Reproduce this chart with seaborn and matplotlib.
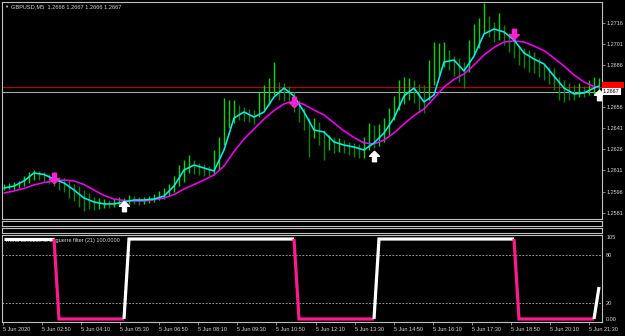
import numpy as np
import matplotlib
matplotlib.use("Agg")
import matplotlib.pyplot as plt
import matplotlib.transforms as mtransforms
from matplotlib.path import Path
from matplotlib.patches import Rectangle
import seaborn as sns

# ---------------- data ----------------
symbol_title = "GBPUSD,M5  1.2666 1.2667 1.2666 1.2667"
indicator_title = "Trend direction of Laguerre filter (21) 100.0000"

bar_high = [1.26014, 1.26021, 1.26028, 1.26035, 1.26070, 1.26099, 1.26113, 1.26106, 1.26099, 1.26085,
            1.26099, 1.26063, 1.26056, 1.26042, 1.26014, 1.25999, 1.25971, 1.25950, 1.25921, 1.25914,
            1.25907, 1.25900, 1.25907, 1.25921, 1.25914, 1.25936, 1.25928, 1.25921, 1.25921, 1.25928,
            1.25943, 1.25964, 1.25985, 1.26014, 1.26070, 1.26148, 1.26184, 1.26220, 1.26184, 1.26163,
            1.26156, 1.26141, 1.26255, 1.26347, 1.26624, 1.26610, 1.26610, 1.26574, 1.26560, 1.26546,
            1.26539, 1.26667, 1.26716, 1.26766, 1.26880, 1.26738, 1.26731, 1.26709, 1.26667, 1.26610,
            1.26553, 1.26482, 1.26482, 1.26454, 1.26397, 1.26362, 1.26347, 1.26340, 1.26326, 1.26312,
            1.26305, 1.26298, 1.26347, 1.26447, 1.26432, 1.26440, 1.26482, 1.26553, 1.26638, 1.26752,
            1.26773, 1.26766, 1.26752, 1.26724, 1.26716, 1.26894, 1.27022, 1.27015, 1.27022, 1.26965,
            1.26922, 1.26908, 1.26880, 1.27036, 1.27150, 1.27192, 1.27299, 1.27206, 1.27164, 1.27228,
            1.27142, 1.27086, 1.27057, 1.27000, 1.26979, 1.26965, 1.26951, 1.26908, 1.26866, 1.26844,
            1.26837, 1.26773, 1.26752, 1.26731, 1.26716, 1.26731, 1.26709, 1.26752, 1.26773, 1.26766]

bar_low = [1.25971, 1.25978, 1.25971, 1.25985, 1.25999, 1.26021, 1.26042, 1.26042, 1.26028, 1.26014,
           1.25999, 1.25971, 1.25957, 1.25914, 1.25893, 1.25850, 1.25822, 1.25836, 1.25829, 1.25836,
           1.25843, 1.25843, 1.25850, 1.25857, 1.25864, 1.25872, 1.25872, 1.25864, 1.25872, 1.25879,
           1.25886, 1.25900, 1.25907, 1.25928, 1.25957, 1.25999, 1.26028, 1.26092, 1.26085, 1.26078,
           1.26070, 1.26070, 1.26078, 1.26113, 1.26290, 1.26411, 1.26447, 1.26468, 1.26461, 1.26454,
           1.26440, 1.26489, 1.26539, 1.26574, 1.26646, 1.26610, 1.26603, 1.26589, 1.26525, 1.26454,
           1.26397, 1.26205, 1.26340, 1.26290, 1.26184, 1.26255, 1.26234, 1.26241, 1.26234, 1.26220,
           1.26205, 1.26198, 1.26198, 1.26255, 1.26269, 1.26283, 1.26312, 1.26362, 1.26468, 1.26539,
           1.26582, 1.26610, 1.26589, 1.26525, 1.26518, 1.26610, 1.26716, 1.26788, 1.26844, 1.26823,
           1.26780, 1.26738, 1.26695, 1.26809, 1.26930, 1.26979, 1.27086, 1.27057, 1.27022, 1.27036,
           1.27000, 1.26951, 1.26908, 1.26858, 1.26837, 1.26809, 1.26802, 1.26773, 1.26752, 1.26724,
           1.26681, 1.26610, 1.26596, 1.26610, 1.26610, 1.26631, 1.26631, 1.26646, 1.26653, 1.26667]

# moving averages sampled every second bar (plus the last bar)
ma_fast = [1.25985, 1.25999, 1.26035, 1.26092, 1.26081, 1.26049, 1.26021, 1.25971, 1.25914, 1.25886,
           1.25872, 1.25872, 1.25886, 1.25900, 1.25900, 1.25907, 1.25928, 1.25999, 1.26113, 1.26148,
           1.26127, 1.26106, 1.26255, 1.26482, 1.26525, 1.26489, 1.26525, 1.26631, 1.26695, 1.26638,
           1.26525, 1.26397, 1.26383, 1.26312, 1.26290, 1.26276, 1.26255, 1.26305, 1.26376, 1.26482,
           1.26638, 1.26695, 1.26596, 1.26646, 1.26880, 1.26894, 1.26816, 1.26922, 1.27079, 1.27114,
           1.27093, 1.27036, 1.26944, 1.26901, 1.26866, 1.26780, 1.26695, 1.26653, 1.26660, 1.26695,
           1.26709]
ma_slow = [1.25950, 1.25964, 1.25982, 1.26007, 1.26024, 1.26035, 1.26042, 1.26035, 1.26010, 1.25971,
           1.25932, 1.25907, 1.25896, 1.25893, 1.25893, 1.25902, 1.25914, 1.25939, 1.25978, 1.26010,
           1.26042, 1.26078, 1.26141, 1.26244, 1.26333, 1.26404, 1.26475, 1.26535, 1.26582, 1.26603,
           1.26578, 1.26539, 1.26504, 1.26447, 1.26390, 1.26344, 1.26305, 1.26298, 1.26326, 1.26376,
           1.26440, 1.26500, 1.26546, 1.26624, 1.26702, 1.26756, 1.26795, 1.26858, 1.26930, 1.26983,
           1.27022, 1.27029, 1.27022, 1.26993, 1.26961, 1.26908, 1.26851, 1.26788, 1.26738, 1.26705,
           1.26702]

filter_values = [100, 100, 100, 100, 100, 100, 100, 100, 100, 100,
                 100, 0, 0, 0, 0, 0, 0, 0, 0, 0,
                 0, 0, 0, 0, 0, 100, 100, 100, 100, 100,
                 100, 100, 100, 100, 100, 100, 100, 100, 100, 100,
                 100, 100, 100, 100, 100, 100, 100, 100, 100, 100,
                 100, 100, 100, 100, 100, 100, 100, 100, 100, 0,
                 0, 0, 0, 0, 0, 0, 0, 0, 0, 0,
                 0, 0, 0, 0, 0, 100, 100, 100, 100, 100,
                 100, 100, 100, 100, 100, 100, 100, 100, 100, 100,
                 100, 100, 100, 100, 100, 100, 100, 100, 100, 100,
                 100, 100, 100, 0, 0, 0, 0, 0, 0, 0,
                 0, 0, 0, 0, 0, 0, 0, 0, 0, 40]

down_arrow_bars = [10, 58, 102]
down_arrow_prices = [1.26056, 1.26596, 1.27079]
up_arrow_bars = [24, 74, 119]
up_arrow_prices = [1.25857, 1.26212, 1.26646]

bid_price = 1.2667
ask_price = 1.2670
price_ticks = [1.2716, 1.2701, 1.2686, 1.2671, 1.2656, 1.2641, 1.2626, 1.2611, 1.2596, 1.2581]
filter_levels = [80, 20]
filter_axis_labels = ["105", "80", "20", "0.00"]
time_labels = ["5 Jun 2020", "5 Jun 02:50", "5 Jun 04:10", "5 Jun 05:30", "5 Jun 06:50",
               "5 Jun 08:10", "5 Jun 09:30", "5 Jun 10:50", "5 Jun 12:10", "5 Jun 13:30",
               "5 Jun 14:50", "5 Jun 16:10", "5 Jun 17:30", "5 Jun 18:50", "5 Jun 20:10",
               "5 Jun 21:30"]

# ---------------- style ----------------
sns.set_theme(style="dark", rc={
    "axes.facecolor": "black", "figure.facecolor": "black",
    "axes.edgecolor": "#c0c0c0", "axes.grid": False,
    "xtick.color": "#c0c0c0", "ytick.color": "#c0c0c0",
    "text.color": "#d8d8d8",
})
plt.rcParams["font.family"] = ["Liberation Sans", "DejaVu Sans"]
FS = 4.0
LABEL_C = "#d8d8d8"

W, H = 625, 336
fig = plt.figure(figsize=(W / 100, H / 100), dpi=100, facecolor="black")


def rect(x0, y0, x1, y1):
    return [x0 / W, 1 - y1 / H, (x1 - x0) / W, (y1 - y0) / H]


ax = fig.add_axes(rect(2, 2, 602, 219))
ax_e1 = fig.add_axes(rect(2, 221, 602, 226))
ax_e2 = fig.add_axes(rect(2, 228, 602, 233))
axi = fig.add_axes(rect(2, 235, 602, 322))

n = len(bar_high)
xb = np.arange(n)
XLIM = (-0.4, n - 0.4)

for a in (ax, ax_e1, ax_e2, axi):
    a.set_facecolor("black")
    a.set_xlim(*XLIM)
    for s in a.spines.values():
        s.set_color("#c0c0c0")
        s.set_linewidth(0.8)
    a.set_xticks([])
    a.set_yticks([])
    a.set_xlabel("")
    a.set_ylabel("")

# ---------------- main price panel ----------------
ax.set_ylim(1.257651, 1.273058)
hi = np.array(bar_high)
lo = np.array(bar_low)
mid = (hi + lo) / 2
bar_cols = ["#00d800" if (i == 0 or mid[i] >= mid[i - 1]) else "#008a00" for i in range(n)]
ax.vlines(xb, lo, hi, colors=bar_cols, lw=1.0, zorder=2)

ax.axhline(ask_price, color="#c00000", lw=0.8, zorder=1.5)
ax.axhline(bid_price, color="#a8a8a8", lw=0.8, zorder=1.5)

ma_x = np.r_[np.arange(0, n, 2), n - 1]
sns.lineplot(x=ma_x, y=ma_slow, ax=ax, color="#f000f0", lw=1.15, zorder=3, sort=False, estimator=None)
sns.lineplot(x=ma_x, y=ma_fast, ax=ax, color="#00f0f0", lw=1.15, zorder=4, sort=False, estimator=None)

up_verts = [(0, 1), (0.95, 0.05), (0.38, 0.05), (0.38, -1), (-0.38, -1), (-0.38, 0.05), (-0.95, 0.05), (0, 1)]
codes = [Path.MOVETO] + [Path.LINETO] * 6 + [Path.CLOSEPOLY]
up_marker = Path(up_verts, codes)
down_marker = Path([(x, -y) for x, y in up_verts], codes)
ax.plot(up_arrow_bars, up_arrow_prices, ls="none", marker=up_marker, ms=7.5,
        color="white", mec="white", zorder=6)
ax.plot(down_arrow_bars, down_arrow_prices, ls="none", marker=down_marker, ms=7.5,
        color="#ff20d0", mec="#ff20d0", zorder=6)

ax.yaxis.tick_right()
ax.set_yticks(price_ticks)
# the 1.2671 level label sits under the bid/ask boxes, as in the terminal
ax.set_yticklabels(["" if abs(p - 1.2671) < 1e-6 else f"{p:.4f}" for p in price_ticks])
ax.tick_params(axis="y", which="both", right=True, left=False, length=2, width=0.5,
               pad=1.5, labelsize=FS, labelcolor=LABEL_C, color="#c0c0c0")

blend = mtransforms.blended_transform_factory(ax.transAxes, ax.transData)
# ask box (mostly hidden behind the bid box)
ask_box = Rectangle((1.0, ask_price - 0.00005), 0.036, 0.00045, transform=blend,
                    facecolor="#ff0000", edgecolor="none", clip_on=False, zorder=9)
ax.add_patch(ask_box)
ax.text(1.0015, bid_price, f"{bid_price:.4f}", transform=blend, fontsize=FS, color="black",
        va="center", ha="left", clip_on=False, zorder=10,
        bbox=dict(boxstyle="square,pad=0.25", fc="white", ec="none"))

fig.text(11 / W, 1 - 6.5 / H, symbol_title, fontsize=4.1, color=LABEL_C, va="center", ha="left")
fig.text(4 / W, 1 - 6.5 / H, "\u25bc", fontsize=3, color=LABEL_C, va="center", ha="left")

# ---------------- indicator panel ----------------
axi.set_ylim(-3.75, 105)
for lv in filter_levels:
    axi.axhline(lv, color="#b8b8b8", lw=0.6, ls=(0, (2, 2)), zorder=1)

axi.text(0.2, 98.5, indicator_title, fontsize=FS, color=LABEL_C,
         va="center", ha="left", zorder=1)

vals = np.array(filter_values, dtype=float)
pink = [(v1 < v0) or (v0 == 0 and v1 == 0) for v0, v1 in zip(vals[:-1], vals[1:])]
start = 0
for j in range(1, len(pink) + 1):
    if j == len(pink) or pink[j] != pink[start]:
        seg_x = xb[start:j + 1]
        seg_y = vals[start:j + 1]
        sns.lineplot(x=seg_x, y=seg_y, ax=axi, color="#ff1a8c" if pink[start] else "white",
                     lw=2.3, zorder=3, sort=False, estimator=None,
                     solid_joinstyle="miter", solid_capstyle="butt")
        start = j

axi.yaxis.tick_right()
axi.set_yticks([105, 80, 20, 0])
ylabels = axi.set_yticklabels(filter_axis_labels)
ylabels[0].set_va("top")
axi.tick_params(axis="y", right=True, left=False, length=0, pad=3,
                labelsize=FS, labelcolor=LABEL_C)

tick_x = -0.26 + 7.82 * np.arange(len(time_labels))
axi.set_xticks(tick_x)
xl = axi.set_xticklabels(time_labels)
for t in xl:
    t.set_ha("left")
axi.tick_params(axis="x", bottom=True, length=2, width=0.5, pad=1.5, labelsize=FS,
                labelcolor=LABEL_C, color="#c0c0c0")
axi.set_xlim(*XLIM)
axi.set_xlabel("")
axi.set_ylabel("")
ax.set_xlabel("")
ax.set_ylabel("")

fig.savefig("out.png", dpi=100, facecolor="black")
